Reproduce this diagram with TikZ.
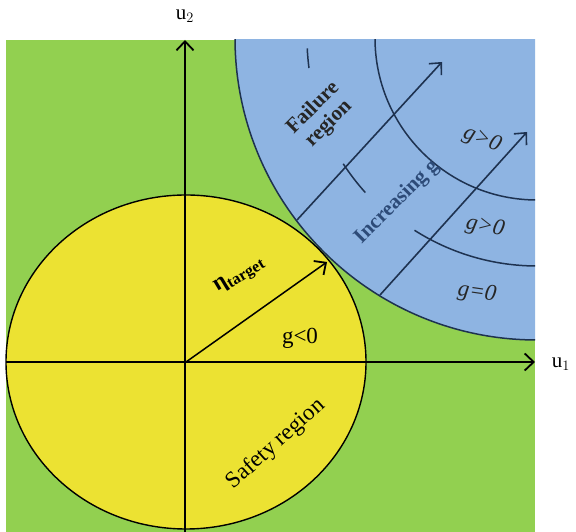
\documentclass[tikz,border=0pt]{standalone}
\usepackage{fontspec}
\setmainfont{Liberation Serif}
\usetikzlibrary{arrows.meta}
\definecolor{bggreen}{RGB}{146,208,80}
\definecolor{safeyellow}{RGB}{236,226,50}
\definecolor{failblue}{RGB}{142,180,226}
\definecolor{lineblue}{RGB}{30,50,80}
\definecolor{textblue}{RGB}{45,75,120}
\tikzset{
  axis/.style={line width=1.8pt, black, -{Straight Barb[length=9pt,width=17pt,line width=1.8pt]}},
  garrow/.style={line width=1.6pt, lineblue, -{Straight Barb[length=9pt,width=17pt,line width=1.6pt]}},
  arcline/.style={line width=1.5pt, lineblue},
  lbl/.style={inner sep=0pt},
}
\begin{document}
\begin{tikzpicture}[x=1pt,y=1pt]
\useasboundingbox (0,0) rectangle (576,532);
\fill[bggreen] (6,0) rectangle (535,492);
\coordinate (C) at (537,494);
\begin{scope}
  \clip (6,0) rectangle (535,492);
  \fill[failblue] (C) circle (302);
  \draw[arcline] (C) circle (302);
  \draw[arcline] (C) circle (162);
  \draw[arcline] ([shift={(182.6:230)}]C) arc[start angle=182.6, end angle=187.5, radius=230];
  \draw[arcline] ([shift={(213:231)}]C) arc[start angle=213, end angle=222, radius=231];
  \draw[arcline] ([shift={(237.5:228)}]C) arc[start angle=237.5, end angle=270, radius=228];
\end{scope}
\coordinate (O) at (186,170);
\draw[line width=1.4pt, fill=safeyellow] (O) ellipse [x radius=180, y radius=167];
\coordinate (xl) at (6,170);
\coordinate (xr) at (535,170);
\coordinate (yb) at (185,0);
\coordinate (yt) at (185,492);
\draw[axis] (xl) -- (xr);
\draw[axis] (yb) -- (yt);
\coordinate (eta) at (327,270);
\draw[axis, line width=1.5pt] (O) -- (eta);
\coordinate (a1s) at (297,312);
\coordinate (a1e) at (442,470);
\coordinate (a2s) at (380,237);
\coordinate (a2e) at (527,400);
\draw[garrow] (a1s) -- (a1e);
\draw[garrow] (a2s) -- (a2e);
\node[lbl, font=\fontsize{21}{21}\selectfont] (u1) at (561,168) {u$_1$};
\node[lbl, font=\fontsize{21}{21}\selectfont] (u2) at (185,516) {u$_2$};
\node[lbl, rotate=31, font=\fontsize{23}{23}\selectfont\bfseries] (etal) at (240,256) {η\textsubscript{target}};
\node[lbl, font=\fontsize{23}{23}\selectfont] (gl0) at (300,194) {g<0};
\node[lbl, rotate=42, font=\fontsize{23}{23}\selectfont] (safe) at (276,88) {Safety region};
\node[lbl, rotate=45, align=center, font=\fontsize{21}{22}\selectfont\bfseries, text=black!85] (fail) at (321,416) {Failure\\region};
\node[lbl, rotate=45, text=textblue, font=\fontsize{21}{21}\selectfont\bfseries] (incr) at (397,330) {Increasing g};
\node[lbl, rotate=-22, font=\fontsize{23}{23}\selectfont\itshape, text=black!85] (g1) at (482,392) {g>0};
\node[lbl, rotate=-12, font=\fontsize{23}{23}\selectfont\itshape, text=black!85] (g2) at (485,305) {g>0};
\node[lbl, rotate=-8, font=\fontsize{23}{23}\selectfont\itshape, text=black!85] (g3) at (477,239) {g=0};
\end{tikzpicture}
\end{document}
